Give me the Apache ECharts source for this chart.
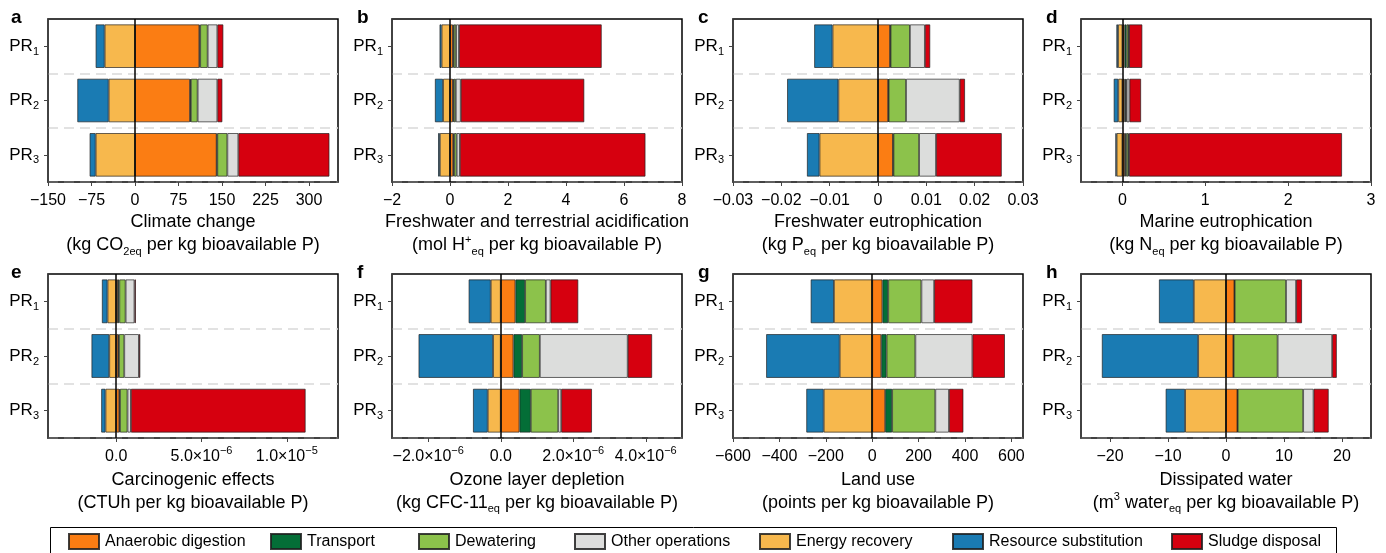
<!DOCTYPE html>
<html>
<head>
<meta charset="utf-8">
<script src="https://cdn.jsdelivr.net/npm/echarts@6/dist/echarts.min.js"></script>
<style>
  html, body { margin: 0; padding: 0; background: #fff; }
  #chart { width: 1386px; height: 553px; }
</style>
</head>
<body>
<div id="chart"></div>
<script>
// ---------------- DATA ----------------
const categories = ['PR1', 'PR2', 'PR3'];
const processes = ['Anaerobic digestion', 'Transport', 'Dewatering', 'Other operations',
                   'Energy recovery', 'Resource substitution', 'Sludge disposal'];

// each panel: one row per process (order as in `processes`), values for PR1, PR2, PR3
const climateChange = [
  [110.9, 94.8, 140.8],
  [1.5, 1.5, 1.1],
  [12.9, 11.7, 17.3],
  [16.7, 34.0, 19.0],
  [-52.3, -45.4, -67.8],
  [-15.5, -54.0, -10.4],
  [10.3, 8.6, 157.0]
];
const acidification = [
  [0.10, 0.10, 0.11],
  [0.03, 0.03, 0.03],
  [0.08, 0.07, 0.09],
  [0.10, 0.17, 0.11],
  [-0.29, -0.24, -0.35],
  [-0.07, -0.28, -0.06],
  [4.92, 4.26, 6.40]
];
const freshwaterEutro = [
  [0.0025, 0.0021, 0.0031],
  [0.0001, 0.0001, 0.0001],
  [0.0040, 0.0036, 0.0053],
  [0.0031, 0.0111, 0.0035],
  [-0.0094, -0.0082, -0.0121],
  [-0.0038, -0.0106, -0.0026],
  [0.0011, 0.0011, 0.0136]
];
const marineEutro = [
  [0.025, 0.025, 0.030],
  [0.025, 0.015, 0.015],
  [0.025, 0.010, 0.025],
  [0.005, 0.035, 0.010],
  [-0.053, -0.050, -0.070],
  [-0.020, -0.055, -0.015],
  [0.160, 0.140, 2.570]
];
const carcinogenic = [
  [0.10e-6, 0.12e-6, 0.18e-6],
  [0.08e-6, 0.04e-6, 0.04e-6],
  [0.37e-6, 0.31e-6, 0.44e-6],
  [0.52e-6, 0.86e-6, 0.20e-6],
  [-0.51e-6, -0.41e-6, -0.63e-6],
  [-0.33e-6, -1.04e-6, -0.25e-6],
  [0.08e-6, 0.08e-6, 10.24e-6]
];
const ozone = [
  [0.405e-6, 0.350e-6, 0.516e-6],
  [0.268e-6, 0.240e-6, 0.313e-6],
  [0.571e-6, 0.488e-6, 0.756e-6],
  [0.129e-6, 2.424e-6, 0.083e-6],
  [-0.276e-6, -0.212e-6, -0.359e-6],
  [-0.609e-6, -2.055e-6, -0.406e-6],
  [0.765e-6, 0.673e-6, 0.848e-6]
];
const landUse = [
  [44, 39, 56],
  [25, 23, 30],
  [143, 124, 186],
  [55, 246, 59],
  [-165, -140, -209],
  [-100, -317, -75],
  [165, 140, 62]
];
const dissipatedWater = [
  [1.45, 1.27, 1.97],
  [0.05, 0.05, 0.05],
  [8.85, 7.58, 11.28],
  [1.73, 9.40, 1.80],
  [-5.55, -4.80, -7.05],
  [-6.01, -16.60, -3.35],
  [1.02, 0.80, 2.60]
];

// tick labels for each panel
const ticksA = [-150, -75, 0, 75, 150, 225, 300];
const ticksB = [-2, 0, 2, 4, 6, 8];
const ticksC = [-0.03, -0.02, -0.01, 0, 0.01, 0.02, 0.03];
const ticksD = [0, 1, 2, 3];
const ticksE = [0, 5e-6, 1e-5];
const ticksF = [-2e-6, 0, 2e-6, 4e-6];
const ticksG = [-600, -400, -200, 0, 200, 400, 600];
const ticksH = [-20, -10, 0, 10, 20];

// axis extents
const extentA = [-150, 350];
const extentB = [-2, 8];
const extentC = [-0.03, 0.03];
const extentD = [-0.5, 3];
const extentE = [-4e-6, 1.3e-5];
const extentF = [-3e-6, 5e-6];
const extentG = [-600, 650];
const extentH = [-25, 25];

const panelLetters = ['a', 'b', 'c', 'd', 'e', 'f', 'g', 'h'];
const axisTitles = [
  'Climate change\n(kg CO{sub|2eq} per kg bioavailable P)',
  'Freshwater and terrestrial acidification\n(mol H{sup|+}{sub|eq} per kg bioavailable P)',
  'Freshwater eutrophication\n(kg P{sub|eq} per kg bioavailable P)',
  'Marine eutrophication\n(kg N{sub|eq} per kg bioavailable P)',
  'Carcinogenic effects\n(CTUh per kg bioavailable P)',
  'Ozone layer depletion\n(kg CFC-11{sub|eq} per kg bioavailable P)',
  'Land use\n(points per kg bioavailable P)',
  'Dissipated water\n(m{sup|3} water{sub|eq} per kg bioavailable P)'
];

// ---------------- BUILD ----------------
const panelData = [climateChange, acidification, freshwaterEutro, marineEutro,
                   carcinogenic, ozone, landUse, dissipatedWater];
const panelTicks = [ticksA, ticksB, ticksC, ticksD, ticksE, ticksF, ticksG, ticksH];
const panelExtents = [extentA, extentB, extentC, extentD, extentE, extentF, extentG, extentH];

const colors = ['#FB7D13', '#046E37', '#8CC24B', '#DCDDDC', '#F7B84D', '#1A7BB3', '#D6000F'];
const FONT = '"Liberation Sans", Arial, Helvetica, sans-serif';

const minus = s => s.replace(/-/g, '\u2212');
const fmtPlain = v => minus(String(v));
const fmtDec2 = v => (v === 0 ? '0' : minus(v.toFixed(2)));
const fmtSci = v => {
  if (v === 0) return '0.0';
  const e = Math.floor(Math.log10(Math.abs(v)) + 1e-9);
  const m = v / Math.pow(10, e);
  return minus(m.toFixed(1)) + '\u00d710{sup|\u2212' + (-e) + '}';
};
const formatters = [fmtPlain, fmtPlain, fmtDec2, fmtPlain, fmtSci, fmtSci, fmtPlain, fmtPlain];

const gridLefts = [48, 392, 733, 1081];
const gridTops = [19, 274];
const gridHeights = [163, 164];
const gridWidth = 290;

const grids = [], xAxes = [], yAxes = [], series = [], graphics = [];

for (let p = 0; p < 8; p++) {
  const row = Math.floor(p / 4), col = p % 4;
  grids.push({
    left: gridLefts[col], top: gridTops[row], width: gridWidth, height: gridHeights[row],
    show: true, borderColor: '#000', borderWidth: 1.5, containLabel: false
  });
  xAxes.push({
    type: 'value', gridIndex: p, z: 3,
    min: panelExtents[p][0], max: panelExtents[p][1],
    axisLine: { show: true, onZero: false, lineStyle: { color: '#444', width: 1.5 } },
    axisTick: { show: true, length: 4, lineStyle: { color: '#444', width: 1 }, customValues: panelTicks[p] },
    axisLabel: {
      customValues: panelTicks[p],
      formatter: formatters[p],
      fontFamily: FONT, fontSize: 16, color: '#000',
      margin: row === 0 ? 10 : 7, lineHeight: row === 0 ? 18 : 23,
      rich: { sup: { fontFamily: FONT, fontSize: 11, lineHeight: 11, verticalAlign: 'top', color: '#000' } }
    },
    splitLine: { show: false },
    name: axisTitles[p],
    nameLocation: 'middle',
    nameGap: row === 0 ? 29 : 27.5,
    nameTextStyle: {
      fontFamily: FONT, fontSize: 18, lineHeight: 23, color: '#000',
      rich: {
        sub: { fontFamily: FONT, fontSize: 11, lineHeight: 11, verticalAlign: 'bottom', color: '#000' },
        sup: { fontFamily: FONT, fontSize: 11, lineHeight: 11, verticalAlign: 'top', color: '#000' }
      }
    }
  });
  yAxes.push({
    type: 'category', gridIndex: p, data: categories, inverse: true, z: 1,
    axisLine: { show: true, onZero: false, lineStyle: { color: '#444', width: 1.5 } },
    axisTick: { show: true, alignWithLabel: true, length: 4, lineStyle: { color: '#444', width: 1 } },
    axisLabel: {
      margin: 9,
      formatter: v => 'PR{s|' + v.slice(2) + '}',
      fontFamily: FONT, fontSize: 17, color: '#000', lineHeight: 22,
      rich: { s: { fontFamily: FONT, fontSize: 11, lineHeight: 11, verticalAlign: 'bottom', color: '#000' } }
    },
    splitLine: {
      show: true,
      interval: (i) => i === 1 || i === 2,
      lineStyle: { color: '#d9d9d9', width: 1.5, type: [10, 6] }
    }
  });
  processes.forEach((name, k) => {
    const s = {
      type: 'bar', name: name, stack: 'panel' + p,
      xAxisIndex: p, yAxisIndex: p,
      data: panelData[p][k],
      barWidth: '80%',
      itemStyle: { color: colors[k], borderColor: 'rgba(30,30,30,0.85)', borderWidth: 0.8 },
      emphasis: { disabled: true }
    };
    if (k === 0) {
      s.markLine = {
        silent: true, symbol: 'none', animation: false,
        label: { show: false },
        lineStyle: { color: '#000', width: 1.5, type: 'solid' },
        data: [{ xAxis: 0 }]
      };
    }
    series.push(s);
  });
  graphics.push({
    type: 'text',
    left: [11, 357, 698, 1046][col],
    top: row === 0 ? 8 : 263,
    style: { text: panelLetters[p], font: 'bold 19px ' + FONT, fill: '#000' }
  });
}

// legend box
graphics.push({
  type: 'rect', left: 50, top: 527, z: -1,
  shape: { width: 1286, height: 40 },
  style: { fill: '#fff', stroke: '#000', lineWidth: 1 }
});

const legendLefts = [68, 270, 418, 574, 759, 952, 1171];
const legends = processes.map((name, k) => ({
  data: [name], left: legendLefts[k], top: 533, padding: 0,
  itemWidth: 30, itemHeight: 15, itemGap: 0,
  icon: 'rect',
  textStyle: { fontFamily: FONT, fontSize: 16, color: '#000', padding: [0, 0, 0, 1] }
}));

const chart = echarts.init(document.getElementById('chart'), null, { renderer: 'canvas' });
chart.setOption({
  animation: false,
  backgroundColor: '#fff',
  textStyle: { fontFamily: FONT },
  grid: grids,
  xAxis: xAxes,
  yAxis: yAxes,
  legend: legends,
  series: series,
  graphic: graphics
});
</script>
</body>
</html>
